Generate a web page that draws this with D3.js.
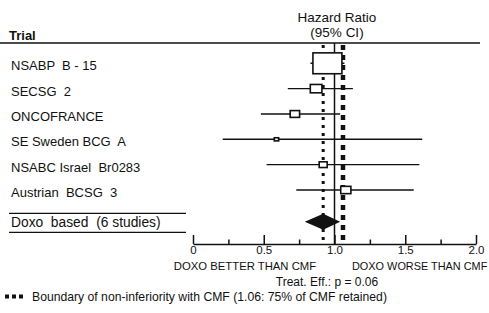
<!DOCTYPE html>
<html><head><meta charset="utf-8">
<script src="https://cdn.jsdelivr.net/npm/d3@7/dist/d3.min.js"></script>
<style>
html,body{margin:0;padding:0;background:#fff;}
svg{display:block;font-family:"Liberation Sans",Arial,sans-serif;}
text{white-space:pre;fill:#111;}
</style></head>
<body>
<svg id="c" width="489" height="313"></svg>
<script>
const trials = ["NSABP  B - 15","SECSG  2","ONCOFRANCE","SE Sweden BCG  A","NSABC Israel  Br0283","Austrian  BCSG  3"];
const hr     = [0.95, 0.87, 0.72, 0.59, 0.92, 1.08];
const ciLow  = [0.83, 0.67, 0.48, 0.21, 0.52, 0.73];
const ciHigh = [1.07, 1.13, 1.04, 1.62, 1.60, 1.56];
const weights = [40, 16, 13, 6, 11, 14];
const pooledLabel = "Doxo  based  (6 studies)";
const pooled = {hr: 0.92, low: 0.79, high: 1.04};
const boundary = 1.06;
const majorTicks = [0, 0.5, 1.0, 1.5, 2.0];
const minorTicks = [0.25, 0.75, 1.25, 1.75];

const svg = d3.select("#c");
const x = d3.scaleLinear().domain([0, 2]).range([193, 476]);
const y = d3.scalePoint().domain(d3.range(trials.length)).range([63.3, 190]);
const pooledY = 221.7;
const w = d3.scaleLinear().domain([0, 40]).range([0, 29]);
const headerY = 43, axisY = 244;

// header
svg.append("text").attr("x", 9).attr("y", 39.5).attr("font-size", 13).attr("font-weight", "bold").text("Trial");
svg.append("text").attr("x", 337).attr("y", 21.5).attr("font-size", 13.5).attr("text-anchor", "middle").text("Hazard Ratio");
svg.append("text").attr("x", 337).attr("y", 37).attr("font-size", 13.5).attr("text-anchor", "middle").text("(95% CI)");
svg.append("line").attr("x1", 0).attr("x2", 480).attr("y1", headerY).attr("y2", headerY).attr("stroke", "#111").attr("stroke-width", 1.6);

// reference lines
svg.append("line").attr("x1", x(1)).attr("x2", x(1)).attr("y1", headerY).attr("y2", axisY)
  .attr("stroke", "#111").attr("stroke-width", 1.5);
svg.append("line").attr("x1", x(boundary)).attr("x2", x(boundary)).attr("y1", headerY + 2).attr("y2", axisY)
  .attr("stroke", "#111").attr("stroke-width", 4.5).attr("stroke-dasharray", "5,5");
svg.append("line").attr("x1", x(pooled.hr)).attr("x2", x(pooled.hr)).attr("y1", headerY + 2).attr("y2", axisY)
  .attr("stroke", "#111").attr("stroke-width", 3).attr("stroke-dasharray", "3,5");

// rows
const rows = svg.append("g").selectAll("g").data(trials).join("g");
rows.append("text").attr("x", 11).attr("y", (d, i) => y(i) + 7).attr("font-size", 13).text(d => d);
rows.append("line").attr("x1", (d, i) => x(ciLow[i])).attr("x2", (d, i) => x(ciHigh[i]))
  .attr("y1", (d, i) => y(i)).attr("y2", (d, i) => y(i)).attr("stroke", "#111").attr("stroke-width", 1.4);
rows.append("rect")
  .attr("x", (d, i) => x(hr[i]) - w(weights[i]) / 2)
  .attr("y", (d, i) => y(i) - w(weights[i]) * 0.72 / 2)
  .attr("width", (d, i) => w(weights[i]))
  .attr("height", (d, i) => w(weights[i]) * 0.72)
  .attr("fill", "#fff").attr("stroke", "#111").attr("stroke-width", 1.6);

// pooled
svg.append("line").attr("x1", 9).attr("x2", 186).attr("y1", 213.3).attr("y2", 213.3).attr("stroke", "#111").attr("stroke-width", 1.2);
svg.append("line").attr("x1", 9).attr("x2", 186).attr("y1", 232.3).attr("y2", 232.3).attr("stroke", "#111").attr("stroke-width", 1.2);
svg.append("text").attr("x", 11).attr("y", pooledY + 5.5).attr("font-size", 13.8).text(pooledLabel);
svg.append("path")
  .attr("d", `M${x(pooled.low)},${pooledY}L${x(pooled.hr)},${pooledY - 8}L${x(pooled.high)},${pooledY}L${x(pooled.hr)},${pooledY + 8}Z`)
  .attr("fill", "#111");

// axis
const ax = svg.append("g").attr("transform", `translate(0,${axisY})`)
  .call(d3.axisBottom(x).tickValues(majorTicks).tickSizeInner(-9).tickSizeOuter(0).tickPadding(2)
    .tickFormat(d => d === 0 ? "0" : d3.format(".1f")(d)));
ax.select(".domain").attr("stroke", "#111").attr("stroke-width", 1.5);
ax.selectAll(".tick line").attr("stroke", "#111").attr("stroke-width", 1.5);
ax.selectAll(".tick text").attr("font-size", 11.5).attr("font-family", "Liberation Sans, Arial, sans-serif").attr("fill", "#111");
const ax2 = svg.append("g").attr("transform", `translate(0,${axisY})`)
  .call(d3.axisBottom(x).tickValues(minorTicks).tickSizeInner(-4.5).tickSizeOuter(0).tickFormat(""));
ax2.select(".domain").remove();
ax2.selectAll(".tick line").attr("stroke", "#111").attr("stroke-width", 1.5);

svg.append("text").attr("x", 245).attr("y", 269.5).attr("font-size", 11.3).attr("text-anchor", "middle").text("DOXO BETTER THAN CMF");
svg.append("text").attr("x", 352).attr("y", 269.5).attr("font-size", 10.9).text("DOXO WORSE THAN CMF");
svg.append("text").attr("x", 327).attr("y", 286).attr("font-size", 12).attr("text-anchor", "middle").text("Treat. Eff.: p = 0.06");

// legend
const lg = svg.append("g");
lg.selectAll("rect").data([0, 1, 2]).join("rect")
  .attr("x", d => 5 + d * 7).attr("y", 294.5).attr("width", 4).attr("height", 4).attr("fill", "#111");
lg.append("text").attr("x", 32).attr("y", 301).attr("font-size", 12.2)
  .text("Boundary of non-inferiority with CMF (1.06: 75% of CMF retained)");
</script>
</body></html>
